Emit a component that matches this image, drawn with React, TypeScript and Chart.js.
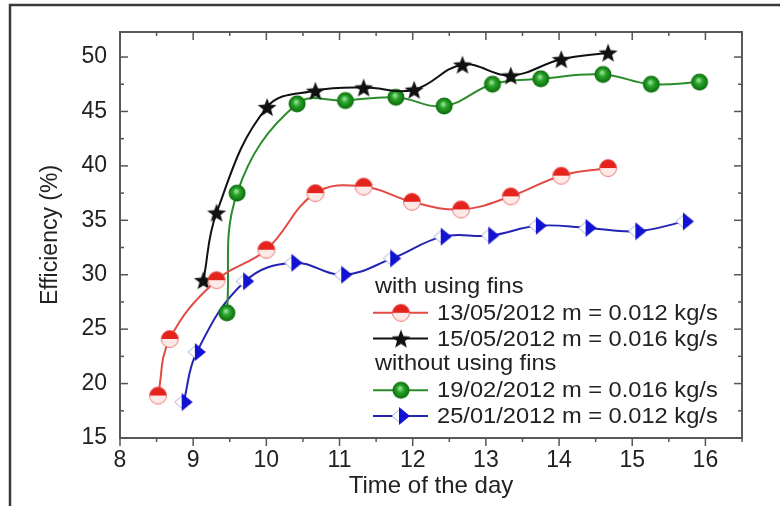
import React, { useEffect, useRef } from 'react';
import { Chart, registerables } from 'chart.js';

Chart.register(...registerables);

// ---------- data ----------
const redX = [8.52, 8.68, 9.32, 10.0, 10.67, 11.33, 11.99, 12.66, 13.34, 14.03, 14.67];
const redY = [18.9, 24.1, 29.5, 32.3, 37.5, 38.1, 36.7, 36.0, 37.2, 39.1, 39.8];

const blackX = [9.14, 9.32, 10.01, 10.67, 11.33, 12.02, 12.68, 13.34, 14.03, 14.67];
const blackY = [29.5, 35.7, 45.4, 46.9, 47.2, 47.0, 49.3, 48.3, 49.8, 50.4];

const greenX = [9.46, 9.6, 10.42, 11.08, 11.77, 12.43, 13.09, 13.75, 14.6, 15.26, 15.92];
const greenY = [26.5, 37.5, 45.7, 46.0, 46.3, 45.5, 47.5, 48.0, 48.4, 47.5, 47.7];

const blueX = [8.87, 9.05, 9.71, 10.37, 11.05, 11.72, 12.41, 13.06, 13.71, 14.39, 15.07, 15.72];
const blueY = [18.3, 22.9, 29.4, 31.1, 30.0, 31.5, 33.5, 33.6, 34.5, 34.3, 34.0, 34.9];

const seriesLabels = [
  '13/05/2012 m = 0.012 kg/s',
  '15/05/2012 m = 0.016 kg/s',
  '19/02/2012 m = 0.016 kg/s',
  '25/01/2012 m = 0.012 kg/s',
];
const groupHeaders = ['with using fins', 'without using fins'];

const xTickValues = [8, 9, 10, 11, 12, 13, 14, 15, 16];
const yTickValues = [15, 20, 25, 30, 35, 40, 45, 50];
const xAxisTitle = 'Time of the day';
const yAxisTitle = 'Efficiency (%)';

const X_MIN = 8;
const X_MAX = 16.5;
const Y_MIN = 15;
const Y_MAX = 52.3;

const FONT = '"Liberation Sans", Arial, sans-serif';

// ---------- markers ----------
function makeCanvas(size: number) {
  const c = document.createElement('canvas');
  c.width = size;
  c.height = size;
  return c;
}

function redMarker() {
  const s = 22, c = s / 2, r = 8.5;
  const cv = makeCanvas(s);
  const ctx = cv.getContext('2d')!;
  ctx.beginPath();
  ctx.arc(c, c, r, 0, Math.PI);
  ctx.closePath();
  ctx.fillStyle = '#fde9e6';
  ctx.fill();
  ctx.beginPath();
  ctx.arc(c, c, r, Math.PI, 2 * Math.PI);
  ctx.closePath();
  ctx.fillStyle = '#e4231d';
  ctx.fill();
  ctx.beginPath();
  ctx.arc(c, c, r, 0, 2 * Math.PI);
  ctx.strokeStyle = 'rgba(230,90,90,0.8)';
  ctx.lineWidth = 1;
  ctx.stroke();
  return cv;
}

function starMarker() {
  const s = 24, c = s / 2, R = 10, rIn = 4.2;
  const cv = makeCanvas(s);
  const ctx = cv.getContext('2d')!;
  ctx.beginPath();
  for (let i = 0; i < 10; i++) {
    const ang = -Math.PI / 2 + (i * Math.PI) / 5;
    const rr = i % 2 === 0 ? R : rIn;
    const px = c + rr * Math.cos(ang);
    const py = c + rr * Math.sin(ang) + 1;
    if (i === 0) ctx.moveTo(px, py);
    else ctx.lineTo(px, py);
  }
  ctx.closePath();
  ctx.fillStyle = '#111';
  ctx.fill();
  return cv;
}

function greenMarker() {
  const s = 22, c = s / 2, r = 8.5;
  const cv = makeCanvas(s);
  const ctx = cv.getContext('2d')!;
  const g = ctx.createRadialGradient(c - 1, c - 2, 1, c, c, r);
  g.addColorStop(0, '#8fdc8f');
  g.addColorStop(0.35, '#2aa52a');
  g.addColorStop(1, '#0b6b0b');
  ctx.beginPath();
  ctx.arc(c, c, r, 0, 2 * Math.PI);
  ctx.fillStyle = g;
  ctx.fill();
  return cv;
}

function blueMarker() {
  const s = 24, c = s / 2, r = 9;
  const cv = makeCanvas(s);
  const ctx = cv.getContext('2d')!;
  ctx.beginPath();
  ctx.moveTo(c - r, c);
  ctx.lineTo(c - 1, c - r * 0.75);
  ctx.lineTo(c - 1, c + r * 0.75);
  ctx.closePath();
  ctx.fillStyle = '#ffffff';
  ctx.fill();
  ctx.strokeStyle = 'rgba(150,150,210,0.8)';
  ctx.lineWidth = 1;
  ctx.stroke();
  ctx.beginPath();
  ctx.moveTo(c - 2, c - r);
  ctx.lineTo(c + r, c);
  ctx.lineTo(c - 2, c + r);
  ctx.closePath();
  ctx.fillStyle = '#1212d2';
  ctx.fill();
  return cv;
}

function toPoints(xs: number[], ys: number[]) {
  return xs.map((x, i) => ({ x, y: ys[i] }));
}

export default function App() {
  const ref = useRef<HTMLCanvasElement | null>(null);

  useEffect(() => {
    if (!ref.current) return;
    const markers = [redMarker(), starMarker(), greenMarker(), blueMarker()];
    const colors = ['#e24a44', '#111111', '#2a8c2a', '#2424b4'];

    const framePlugin = {
      id: 'framePlugin',
      afterDraw(chart: any) {
        const { ctx, chartArea: a, scales } = chart;
        const xs = scales.x;
        const ys = scales.y;
        ctx.save();
        ctx.strokeStyle = '#3a3a3a';
        ctx.lineWidth = 2.5;
        ctx.beginPath();
        ctx.moveTo(10, 506);
        ctx.lineTo(10, 5);
        ctx.lineTo(780, 5);
        ctx.stroke();

        ctx.strokeStyle = '#5a5a5a';
        ctx.lineWidth = 2;
        ctx.strokeRect(a.left, a.top, a.right - a.left, a.bottom - a.top);

        ctx.lineWidth = 1.5;
        ctx.strokeStyle = '#555';
        const seg = (x1: number, y1: number, x2: number, y2: number) => {
          ctx.beginPath();
          ctx.moveTo(x1, y1);
          ctx.lineTo(x2, y2);
          ctx.stroke();
        };
        for (let k = 0; X_MIN + k * 0.5 <= X_MAX + 1e-6; k++) {
          const v = X_MIN + k * 0.5;
          const px = xs.getPixelForValue(v);
          const L = k % 2 === 0 ? 8 : 4;
          seg(px, a.bottom, px, a.bottom + L);
          seg(px, a.top, px, a.top + L);
        }
        for (let k = 0; Y_MIN + k * 2.5 <= Y_MAX + 1e-6; k++) {
          const v = Y_MIN + k * 2.5;
          const py = ys.getPixelForValue(v);
          const L = k % 2 === 0 ? 8 : 4;
          seg(a.left, py, a.left + L, py);
          seg(a.right, py, a.right - L, py);
        }

        // legend
        const lx = a.left + 253;
        const y0 = a.top + 255;
        const dy = 25.8;
        const stretch = 1.075;
        const drawText = (t: string, x: number, y: number) => {
          ctx.save();
          ctx.translate(x, y);
          ctx.scale(stretch, 1);
          ctx.fillText(t, 0, 0);
          ctx.restore();
        };
        ctx.font = `22px ${FONT}`;
        ctx.textBaseline = 'middle';
        ctx.textAlign = 'left';
        const rows: Array<{ header?: string; idx?: number }> = [
          { header: groupHeaders[0] },
          { idx: 0 },
          { idx: 1 },
          { header: groupHeaders[1] },
          { idx: 2 },
          { idx: 3 },
        ];
        rows.forEach((row, i) => {
          const yy = y0 + i * dy;
          ctx.fillStyle = '#222';
          if (row.header) {
            drawText(row.header, lx + 2, yy);
          } else {
            const idx = row.idx as number;
            ctx.strokeStyle = colors[idx];
            ctx.lineWidth = 2;
            seg(lx, yy, lx + 55, yy);
            const m = markers[idx];
            ctx.drawImage(m, lx + 28 - m.width / 2, yy - m.height / 2);
            ctx.fillStyle = '#222';
            drawText(seriesLabels[idx], lx + 64, yy + 1);
          }
        });
        ctx.restore();
      },
    };

    const xsArr = [redX, blackX, greenX, blueX];
    const ysArr = [redY, blackY, greenY, blueY];

    const chart = new Chart(ref.current, {
      type: 'line',
      data: {
        datasets: seriesLabels.map((label, i) => ({
          label,
          data: toPoints(xsArr[i], ysArr[i]),
          borderColor: colors[i],
          backgroundColor: colors[i],
          borderWidth: 2,
          pointStyle: markers[i] as any,
          pointRadius: 9,
          tension: 0.4,
          fill: false,
        })),
      },
      options: {
        animation: false,
        responsive: true,
        maintainAspectRatio: false,
        layout: { padding: { left: 0, top: 32, right: 38, bottom: 0 } },
        plugins: {
          legend: { display: false },
          tooltip: { enabled: false },
        },
        scales: {
          x: {
            type: 'linear',
            min: X_MIN,
            max: X_MAX,
            afterBuildTicks: (s: any) => {
              s.ticks = xTickValues.map((v) => ({ value: v }));
            },
            afterFit: (s: any) => {
              s.height = 68;
            },
            grid: { display: false, drawTicks: false },
            border: { display: false },
            ticks: {
              font: { family: FONT, size: 23 },
              color: '#222',
              padding: 9,
              maxRotation: 0,
              autoSkip: false,
            },
            title: {
              display: true,
              text: xAxisTitle,
              font: { family: FONT, size: 24 },
              color: '#222',
              padding: { top: 0, bottom: 5 },
            },
          },
          y: {
            type: 'linear',
            min: Y_MIN,
            max: Y_MAX,
            afterBuildTicks: (s: any) => {
              s.ticks = yTickValues.map((v) => ({ value: v }));
            },
            afterFit: (s: any) => {
              s.width = 120;
            },
            grid: { display: false, drawTicks: false },
            border: { display: false },
            ticks: {
              font: { family: FONT, size: 23 },
              color: '#222',
              padding: 13,
              autoSkip: false,
            },
            title: {
              display: true,
              text: yAxisTitle,
              font: { family: FONT, size: 23 },
              color: '#222',
              padding: { top: 37, bottom: 0 },
            },
          },
        },
      },
      plugins: [framePlugin],
    } as any);

    return () => chart.destroy();
  }, []);

  return (
    <div style={{ position: 'absolute', left: 0, top: 0, width: 780, height: 506, background: '#fff' }}>
      <canvas ref={ref} />
    </div>
  );
}
